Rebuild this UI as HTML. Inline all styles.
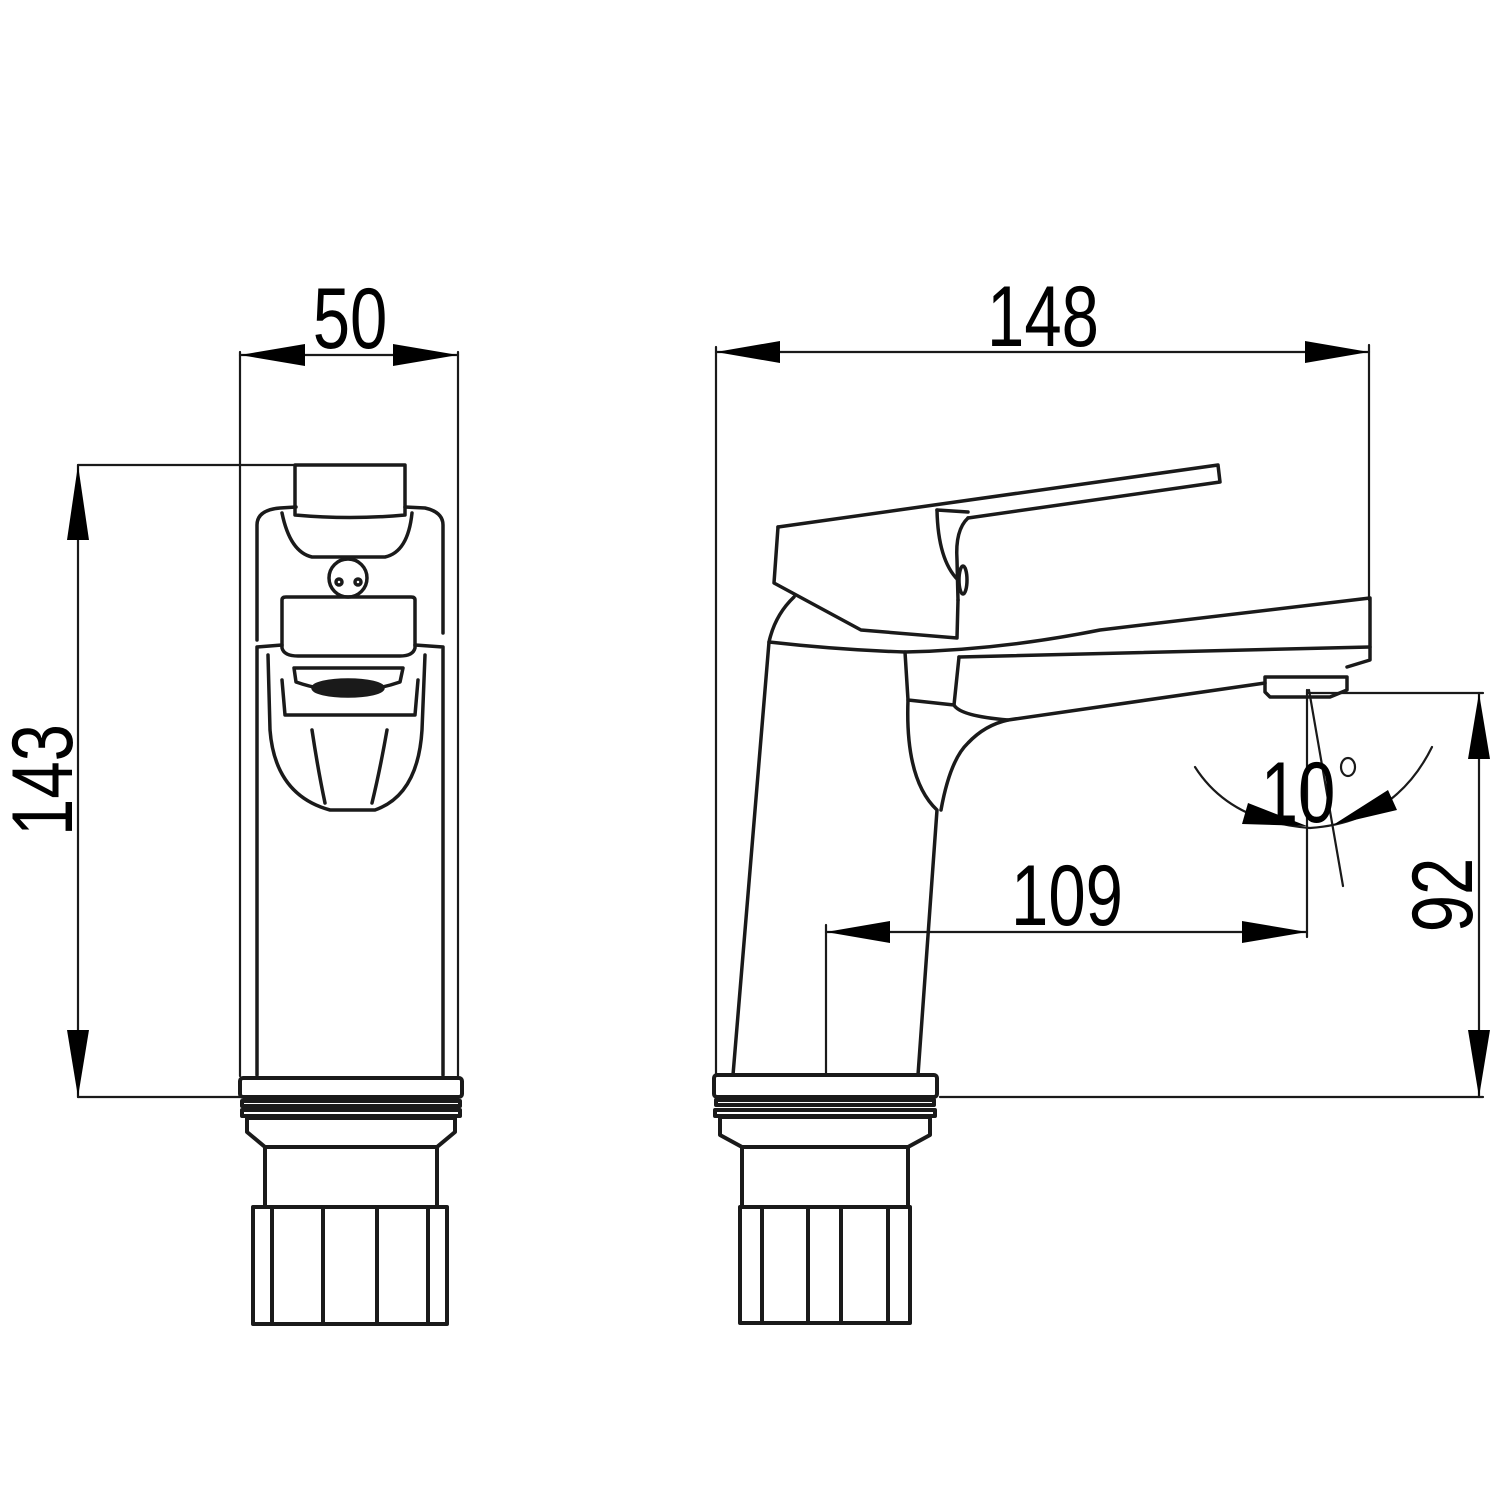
<!DOCTYPE html>
<html><head><meta charset="utf-8"><style>html,body{margin:0;padding:0;background:#fff}svg{display:block}</style></head>
<body>
<svg width="1501" height="1501" viewBox="0 0 1501 1501" xmlns="http://www.w3.org/2000/svg">
<g fill="none" stroke="#1a1a1a" stroke-width="2.2" stroke-linejoin="round" stroke-linecap="round">
<line x1="240" y1="352" x2="240" y2="1076"/>
<line x1="458" y1="352" x2="458" y2="1076"/>
<line x1="240" y1="355" x2="458" y2="355"/>
<line x1="78" y1="465" x2="405" y2="465"/>
<line x1="78" y1="1097" x2="240" y2="1097"/>
<line x1="78" y1="465" x2="78" y2="1097"/>
<g stroke-width="3.5">
<path d="M295 465 L405 465 L405 515 Q350 520 295 515 Z"/>
<path d="M257 640 L257 525 Q257 510 280 508 L296 507 M405 507 L425 508 Q443 512 443 525 L443 633"/>
<path d="M282 513 Q290 552 312 557 L385 557 Q408 552 412 513"/>
<circle cx="348" cy="578" r="19"/>
<circle cx="339" cy="582" r="3"/><circle cx="358" cy="582" r="3"/>
<path d="M282 600 Q282 597 286 597 L411 597 Q415 597 415 600 L415 648 Q413 656 400 656 L298 656 Q284 656 282 648 Z"/>
<path d="M257 647 L257 1075 M443 647 L443 1075 M257 647 L282 645 M443 647 L415 645"/>
<path d="M294 668 L403 668 L400 682 Q348 700 296 682 Z"/>
<ellipse cx="348" cy="688" rx="35" ry="8" fill="#1a1a1a"/>
<path d="M268 655 L270 730 Q275 795 330 810 L375 810 Q418 795 422 730 L425 655"/>
<path d="M282 680 L285 715 L415 715 L418 680"/>
<path d="M312 730 Q318 770 325 803 M387 730 Q380 770 372 803"/>
</g>
<g stroke-width="4">
<rect x="240" y="1078" width="222" height="19" rx="3"/>
<rect x="242" y="1101" width="218" height="5"/>
<rect x="242" y="1110" width="218" height="6"/>
<path d="M247 1118 L455 1118 L455 1132 L437 1147 L265 1147 L247 1132 Z"/>
<rect x="265" y="1147" width="172" height="60"/>
<rect x="253" y="1207" width="194" height="117"/>
<path d="M272 1207 V1324 M323 1207 V1324 M377 1207 V1324 M428 1207 V1324"/>
</g>
<line x1="716" y1="347" x2="716" y2="1076"/>
<line x1="1369" y1="345" x2="1369" y2="600"/>
<line x1="716" y1="352" x2="1369" y2="352"/>
<line x1="826" y1="925" x2="826" y2="1075"/>
<line x1="826" y1="932" x2="1307" y2="932"/>
<line x1="1307" y1="690" x2="1307" y2="937"/>
<line x1="1309" y1="690" x2="1343" y2="886"/>
<line x1="1307" y1="693" x2="1483" y2="693"/>
<line x1="940" y1="1097" x2="1483" y2="1097"/>
<line x1="1479" y1="693" x2="1479" y2="1097"/>
<path d="M1195 767 Q1230 822 1310 828 Q1395 822 1432 747"/>
<g stroke-width="3.5">
<path d="M778 527 L1218 465 L1220 482 L968 518"/>
<path d="M937 510 L968 512"/>
<path d="M778 527 L774 583 L861 630 L957 638 L958 600"/>
<path d="M937 510 Q938 560 958 580"/>
<path d="M968 518 Q955 530 957 560 L958 600"/>
<ellipse cx="963" cy="580" rx="4" ry="14"/>
<path d="M794 597 Q775 615 769 642 Q840 650 905 652 Q1000 650 1100 630 L1370 598 L1370 660 L1347 667"/>
<path d="M959 657 L1370 647"/>
<path d="M905 652 L908 700 L954 705 L959 657"/>
<path d="M954 705 Q960 716 1008 720 L1265 683"/>
<path d="M1265 677 L1347 677 L1347 690 L1330 697 L1270 697 L1265 692 Z"/>
<path d="M769 642 L733 1075"/>
<path d="M908 700 Q905 780 937 810 L918 1075"/>
<path d="M941 810 Q950 760 968 743 Q985 725 1008 720"/>
</g>
<g stroke-width="4">
<rect x="714" y="1075" width="223" height="22" rx="3"/>
<rect x="716" y="1100" width="218" height="5"/>
<rect x="715" y="1110" width="220" height="6"/>
<path d="M720 1117 L930 1117 L930 1135 L908 1147 L742 1147 L720 1135 Z"/>
<rect x="742" y="1147" width="166" height="60"/>
<rect x="740" y="1207" width="170" height="116"/>
<path d="M762 1207 V1323 M808 1207 V1323 M841 1207 V1323 M888 1207 V1323"/>
</g>
<ellipse cx="1348" cy="767" rx="7" ry="9"/>
</g>
<g fill="#000">
<polygon points="240,355 305,344 305,366"/>
<polygon points="458,355 393,344 393,366"/>
<polygon points="78,465 67,540 89,540"/>
<polygon points="78,1097 67,1030 89,1030"/>
<polygon points="716,352 780,341 780,363"/>
<polygon points="1369,352 1305,341 1305,363"/>
<polygon points="826,932 890,921 890,943"/>
<polygon points="1307,932 1242,921 1242,943"/>
<polygon points="1479,693 1468,759 1490,759"/>
<polygon points="1479,1097 1468,1030 1490,1030"/>
<polygon points="1307,826 1242,824 1248,803"/>
<polygon points="1333,825 1388,790 1397,810"/>
</g>
<g font-family="Liberation Sans, sans-serif" fill="#000" font-size="86">
<text transform="translate(350,348) scale(0.78,1)" text-anchor="middle">50</text>
<text transform="translate(1043,346) scale(0.78,1)" text-anchor="middle">148</text>
<text transform="translate(1067,925) scale(0.78,1)" text-anchor="middle">109</text>
<text transform="translate(1298,822) scale(0.78,1)" text-anchor="middle">10</text>
<text transform="translate(72,780) rotate(-90) scale(0.78,1)" text-anchor="middle">143</text>
<text transform="translate(1472,895) rotate(-90) scale(0.78,1)" text-anchor="middle">92</text>
</g>
</svg>
</body></html>
